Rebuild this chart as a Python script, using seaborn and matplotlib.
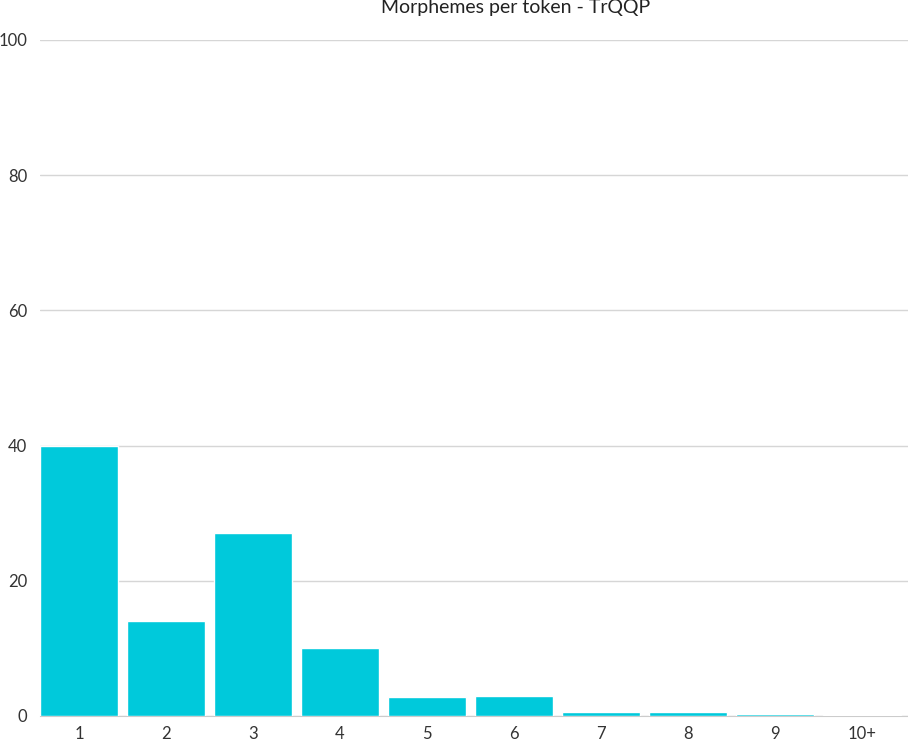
import pandas as pd
import seaborn as sns
import matplotlib.pyplot as plt

# Morphemes per token distribution (percent)
categories = ['1', '2', '3', '4', '5', '6', '7', '8', '9', '10+']
values = [40.0, 14.0, 27.0, 10.0, 2.85, 3.0, 0.62, 0.6, 0.25, 0.08]

df = pd.DataFrame({'morphemes': categories, 'share': values})

sns.set_style('white')
plt.rcParams['font.family'] = ['Lato', 'DejaVu Sans']

fig = plt.figure(figsize=(9.08, 7.41), dpi=100)
ax = fig.add_axes([40 / 908, 1 - 716 / 741, 868 / 908, 676 / 741])

sns.barplot(data=df, x='morphemes', y='share', color='#00c9db',
            saturation=1, width=0.9, ax=ax, zorder=3)

ax.set_ylim(0, 100)
ax.set_xlim(-0.45, 9.53)
ax.set_yticks([0, 20, 40, 60, 80, 100])
ax.yaxis.grid(True, color='#d6d6d6', linewidth=1, zorder=0)
ax.set_xlabel('')
ax.set_ylabel('')
for s in ['top', 'right', 'left']:
    ax.spines[s].set_visible(False)
ax.spines['bottom'].set_color('#cccccc')
ax.spines['bottom'].set_zorder(2)
ax.tick_params(axis='both', length=0, labelsize=12, labelcolor='#333333')
ax.tick_params(axis='y', pad=9)
ax.tick_params(axis='x', pad=7)

fig.text(516 / 908, 1 - 8 / 741, 'Morphemes per token - TrQQP',
         ha='center', va='center', fontsize=14, color='#222222')

fig.savefig('out.png', dpi=100)
